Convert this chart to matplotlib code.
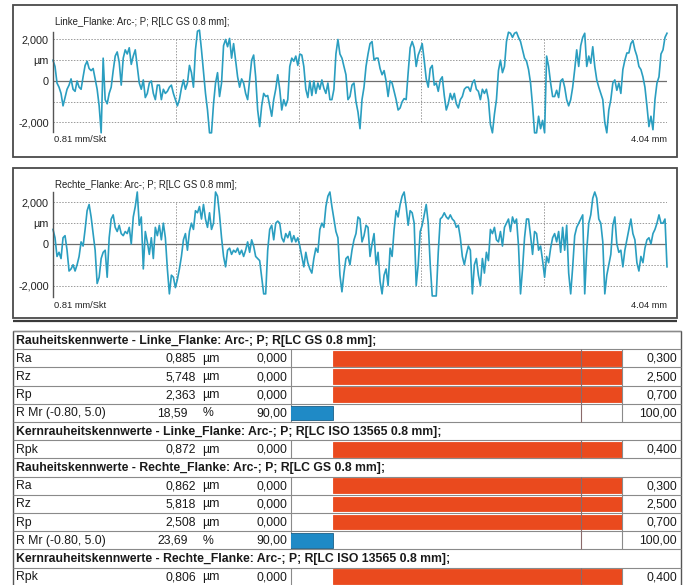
import matplotlib

matplotlib.use("Agg")
import matplotlib.pyplot as plt
import numpy as np
from matplotlib.patches import Rectangle

plt.rcParams["font.family"] = ["Liberation Sans", "DejaVu Sans"]

# profile data (µm), evenly spaced over the evaluation length
EVAL_LENGTH_MM = 4.04
DIV_MM = 0.808

left_profile = [
    1.0, 0.7, -0.1, -0.3, -0.6, -1.2, -0.8, -0.4, -0.2, 0.1, -0.4, -0.5, 0.0, -0.3, -0.4, 0.2,
    0.75, 0.95, 0.6, 0.5, 0.6, 0.1, -0.4, -1.2, -2.5, 1.1, -0.9, -1.1, -0.6, -0.3, 0.5, 1.2,
    1.4, 0.9, -0.2, 1.1, 1.5, 1.3, 1.6, 0.8, 1.2, 1.5, 0.7, -0.1, -0.4, 0.05, -0.8, -0.6,
    -0.1, 0.0, -0.6, -0.9, -0.2, -0.2, -0.9, -0.4, -0.6, -0.5, -0.3, -0.2, -0.6, -0.9, -1.2, -0.9,
    -0.35, 0.05, -0.4, -0.1, 0.75, 0.4, -0.3, 1.5, 2.4, 2.45, 1.5, 0.45, -0.6, -1.4, -2.5, -2.5,
    -1.1, -0.1, 0.4, -0.75, -0.1, 1.7, 2.0, 1.65, 2.05, 1.1, 1.8, 1.0, 0.2, -0.3, 0.1, -0.1,
    -0.6, -0.9, 0.05, 1.0, 1.25, 0.2, -1.4, -2.2, -1.2, -0.6, -0.75, -0.7, -1.2, -1.7, -0.9, -0.4,
    0.3, -0.4, -1.4, -0.9, -1.2, -0.9, 0.7, 1.1, 0.95, 1.2, 0.75, 1.3, 1.25, 0.7, -0.4, -0.8,
    0.0, -0.7, 0.0, -0.6, -0.1, -0.4, 0.05, -0.35, -0.6, -0.1, -0.9, -0.9, -0.4, 1.3, 2.0, 1.3,
    1.1, 0.7, 0.3, -0.9, -0.75, -0.2, -0.1, -1.0, -1.5, -2.3, -0.9, -0.3, 0.7, 1.3, 1.8, 1.9,
    1.0, 1.1, 1.1, 0.6, 0.3, 0.5, 0.0, -0.75, 0.0, -0.1, -0.5, -0.9, -1.4, -1.3, -1.0, -0.85,
    -0.9, 0.4, 1.6, 1.9, 1.6, 0.7, 1.25, 1.5, 1.8, 1.0, 0.1, -0.3, 0.6, 0.75, -0.2, -0.1,
    -0.5, 0.05, 0.2, -0.7, -1.4, -1.1, -0.6, -0.9, -0.6, -1.1, -1.3, -0.9, -0.75, -0.4, -0.3, -0.3,
    -0.5, -0.1, 0.05, -0.4, -0.5, -0.9, -0.4, -0.6, -0.4, -0.9, -2.1, -2.5, -1.6, -0.9, 0.5, 1.0,
    0.4, 0.7, 1.9, 2.35, 2.3, 2.1, 2.3, 2.35, 2.1, 1.9, 1.5, 1.1, 0.95, 0.55, -0.1, -1.2,
    -2.5, -2.5, -1.7, -2.3, -1.9, -2.5, 1.2, 0.7, -0.1, -0.75, -0.75, -0.45, -0.8, 0.0, 0.1, -0.3,
    -0.9, -1.2, -0.9, -0.3, 0.55, 1.5, 0.7, 1.7, 2.1, 2.3, 0.7, 1.2, 0.85, 1.65, 0.7, 0.05,
    -0.3, -0.6, -0.9, -2.0, -2.5, -1.4, -0.9, -0.1, 0.05, -0.45, -0.1, -0.6, 0.55, 1.0, 1.35, 1.35,
    1.8, 1.95, 1.5, 1.2, 0.7, 0.55, 0.2, -0.3, -1.2, -2.2, -1.7, -2.35, -0.9, -0.1, 0.2, 1.3,
    1.5, 2.1, 2.3,
]

right_profile = [
    0.7, 0.3, -0.6, -0.4, -0.7, 0.3, 0.4, -0.3, -1.3, -1.2, -1.0, -1.3, -1.0, -0.6, 0.1, -0.1,
    0.7, 1.6, 1.9, 1.3, 0.5, -0.3, -1.9, -1.6, -0.7, -0.4, -0.3, -1.6, 0.3, 1.2, 1.4, 0.8,
    0.6, 0.9, 0.5, 0.4, 0.6, 0.5, 0.8, 0.0, 1.3, 1.8, 2.5, 0.9, 1.3, -1.2, 0.6, 0.1,
    -0.5, 0.3, -0.7, 0.8, 0.4, 0.9, 0.2, 1.0, 0.3, -1.2, -2.4, -1.5, -1.6, -2.1, -1.7, -1.2,
    -0.6, 0.2, 0.5, -0.3, 0.6, 1.0, 0.7, 1.6, 1.5, 1.8, 1.2, 1.9, 1.2, 0.8, 1.5, 0.7,
    1.0, 2.5, 2.3, 1.4, 0.3, -0.6, -1.1, -0.3, -0.2, -0.5, -0.3, -0.4, -0.2, -0.5, -0.3, -0.6,
    -0.3, 0.1, -0.4, 0.2, -0.1, -0.6, -0.7, -0.8, -1.6, -2.4, -2.4, -0.3, 0.7, 0.9, 0.2, 1.0,
    1.1, 1.0, 0.3, 0.1, 0.5, 0.3, 0.6, 0.1, 0.4, 0.1, 0.3, -0.1, -0.6, -1.1, -0.4, -0.9,
    -1.2, -1.4, -0.7, -0.2, -0.4, 0.7, 1.0, 0.8, 1.8, 2.3, 2.5, 1.8, 1.2, 0.6, 0.3, -1.5,
    -2.3, -1.4, -0.7, -0.6, -1.0, -0.3, 0.2, 0.5, 1.3, 1.2, 0.1, 0.4, 0.9, 0.8, -0.6, 0.0,
    0.5, -1.0, -0.4, -1.8, -2.4, -1.5, -1.2, -2.0, -0.2, -0.6, 0.7, 1.6, 1.3, 1.9, 2.3, 2.5,
    1.8, 0.9, 1.6, 1.5, 1.0, -2.0, -1.0, 0.6, 0.9, 1.4, 1.9, 1.0, -1.0, -2.5, -2.5, -2.5,
    -0.4, 1.2, 1.3, 1.5, 1.3, 1.2, 1.4, 1.2, 1.1, 0.8, 0.9, 0.3, -0.6, -1.0, -0.5, -0.1,
    -0.3, -2.4, -1.0, -0.7, -1.5, -2.0, -0.7, -1.4, -0.4, -0.8, 0.7, 0.5, 0.8, 0.2, 0.1, 0.6,
    -0.1, 0.8, 1.0, 1.2, 0.6, 1.3, 1.0, 1.2, -0.1, -2.4, -1.2, 0.3, 1.2, 1.2, 0.4, -0.5,
    0.6, 0.5, -0.3, -0.1, -0.8, -1.6, -0.6, -0.9, -0.2, 0.3, 0.5, 0.1, 0.6, -0.4, 0.8, -0.3,
    0.9, -1.4, -2.4, -1.1, 0.4, 0.8, 1.0, 1.2, 1.4, -2.4, -0.3, 1.0, 1.4, 2.2, 2.5, 2.2,
    1.2, 1.0, 0.1, -2.4, -1.5, -1.0, -0.5, 0.9, 1.3, 0.0, -0.4, -0.3, -1.1, -0.3, 0.2, 0.7,
    1.2, 0.5, 0.2, -0.9, -1.3, -0.6, -0.9, -0.2, 0.2, 0.3, 0.0, 0.5, 0.7, 1.0, 1.4, 1.0,
    1.0, 1.2, -1.1,
]

profile_titles = [
    "Linke_Flanke: Arc-; P; R[LC GS 0.8 mm];",
    "Rechte_Flanke: Arc-; P; R[LC GS 0.8 mm];",
]

# roughness table
section_titles = [
    "Rauheitskennwerte - Linke_Flanke: Arc-; P; R[LC GS 0.8 mm];",
    "Kernrauheitskennwerte - Linke_Flanke: Arc-; P; R[LC ISO 13565 0.8 mm];",
    "Rauheitskennwerte - Rechte_Flanke: Arc-; P; R[LC GS 0.8 mm];",
    "Kernrauheitskennwerte - Rechte_Flanke: Arc-; P; R[LC ISO 13565 0.8 mm];",
]
param_section = [0, 0, 0, 0, 1, 2, 2, 2, 2, 3]
param_names = ["Ra", "Rz", "Rp", "R Mr (-0.80, 5.0)", "Rpk", "Ra", "Rz", "Rp", "R Mr (-0.80, 5.0)", "Rpk"]
param_values = [0.885, 5.748, 2.363, 18.59, 0.872, 0.862, 5.818, 2.508, 23.69, 0.806]
param_units = ["µm", "µm", "µm", "%", "µm", "µm", "µm", "µm", "%", "µm"]
param_lower = [0.0, 0.0, 0.0, 90.0, 0.0, 0.0, 0.0, 0.0, 90.0, 0.0]
param_upper = [0.300, 2.500, 0.700, 100.0, 0.400, 0.300, 2.500, 0.700, 100.0, 0.400]

W, H = 688, 585
RED = "#ea4a1e"
BLUE = "#1f8ac6"
TRACE = "#2a9ec0"
GRID = "#9a9a9a"
TXT = "#1a1a1a"
FS = 8.8


def rect(x0, y0, x1, y1):
    return [x0 / W, 1 - y1 / H, (x1 - x0) / W, (y1 - y0) / H]


def de(value, decimals):
    return f"{value:.{decimals}f}".replace(".", ",")


def draw_profile(fig, bg, frame, axes_box, values, title, ylim, title_y, foot_y):
    fx0, fy0, fx1, fy1 = frame
    bg.add_patch(Rectangle((fx0, fy0), fx1 - fx0, fy1 - fy0, fill=False, ec="#4a4a4a", lw=1.3))
    ax = fig.add_axes(rect(*axes_box))
    ax.set_facecolor("none")
    x = np.linspace(0, EVAL_LENGTH_MM, len(values))
    ax.set_xlim(0, EVAL_LENGTH_MM)
    ax.set_ylim(*ylim)
    ax.hlines([2, 1, -1, -2], 0, EVAL_LENGTH_MM, colors=GRID, lw=0.7, linestyles=(0, (1.5, 1.5)))
    ax.vlines(np.arange(1, 6) * DIV_MM, -2, 2, colors=GRID, lw=0.7, linestyles=(0, (1.5, 1.5)))
    ax.axhline(0, color="#6e6e6e", lw=0.9)
    ax.plot(x, values, color=TRACE, lw=1.2, clip_on=False)
    for side in ("top", "right", "bottom"):
        ax.spines[side].set_visible(False)
    ax.spines["left"].set_color("#555555")
    ax.spines["left"].set_linewidth(1.0)
    ax.set_xticks([])
    ax.set_yticks([2, 1, 0, -2])
    ax.set_yticklabels(["2,000", "µm", "0", "-2,000"])
    ax.tick_params(axis="y", length=0, pad=3, labelsize=7.8, labelcolor="#222222")
    ax0, ay0, ax1, ay1 = axes_box
    bg.text(ax0 + 2, title_y, title, fontsize=6.9, va="center", ha="left", color="#222222")
    bg.text(ax0 + 1, foot_y, "0.81 mm/Skt", fontsize=6.7, va="center", ha="left", color="#222222")
    bg.text(ax1, foot_y, "4.04 mm", fontsize=6.7, va="center", ha="right", color="#222222")


def main():
    fig = plt.figure(figsize=(W / 100, H / 100), dpi=100)
    bg = fig.add_axes([0, 0, 1, 1])
    bg.set_xlim(0, W)
    bg.set_ylim(H, 0)
    bg.axis("off")

    draw_profile(fig, bg, (13, 5, 677, 157), (53, 32, 667, 132), left_profile, profile_titles[0],
                 (-2.46, 2.36), 22, 139)
    draw_profile(fig, bg, (13, 168, 677, 318), (53, 192, 667, 297), right_profile, profile_titles[1],
                 (-2.55, 2.5), 185, 306)

    # table layout
    rows = []
    last_section = -1
    for i, sec in enumerate(param_section):
        if sec != last_section:
            rows.append(("header", sec))
            last_section = sec
        rows.append(("param", i))

    top, row_h = 331, 18.2
    left, right = 13, 681
    col_bar0, col_bar1 = 291, 622
    bottom = top + row_h * len(rows)

    bar_ax = fig.add_axes(rect(col_bar0, top, col_bar1, bottom))
    bar_ax.set_facecolor("none")
    bar_ax.set_ylim(len(rows), 0)
    # lower limit at pixel 333, upper limit at pixel 581
    scale = 581 - 333
    bar_ax.set_xlim(-(333 - col_bar0) / scale, (col_bar1 - 333) / scale)
    bar_ax.axis("off")

    for r, (kind, idx) in enumerate(rows):
        y0 = top + r * row_h
        yc = y0 + row_h / 2 + 0.5
        if kind == "header":
            bg.text(left + 3, yc, section_titles[idx], fontsize=FS, fontweight="bold",
                    va="center", ha="left", color=TXT)
            continue
        unit = param_units[idx]
        dec = 2 if unit == "%" else 3
        bg.text(left + 3, yc, param_names[idx], fontsize=FS, va="center", ha="left", color=TXT)
        if unit == "%":
            bg.text(188, yc, de(param_values[idx], dec), fontsize=FS, va="center", ha="right", color=TXT)
            bg.text(203, yc, unit, fontsize=FS, va="center", ha="left", color=TXT)
        else:
            bg.text(196, yc, de(param_values[idx], dec), fontsize=FS, va="center", ha="right", color=TXT)
            bg.text(202, yc, unit, fontsize=FS, va="center", ha="left", color=TXT)
        bg.text(287, yc, de(param_lower[idx], dec), fontsize=FS, va="center", ha="right", color=TXT)
        bg.text(677, yc, de(param_upper[idx], dec), fontsize=FS, va="center", ha="right", color=TXT)
        bg.vlines([col_bar0, col_bar1], y0, y0 + row_h, colors="#8a8a8a", lw=0.8)

        norm = (param_values[idx] - param_lower[idx]) / (param_upper[idx] - param_lower[idx])
        color = RED if norm > 1 else BLUE
        bar_ax.barh(r + 0.5, norm, left=0, height=0.8, color=color,
                    edgecolor="#1b5f86" if color == BLUE else color, lw=0.6)
        bar_ax.vlines(1, r, r + 1, colors="#8a6a6a", lw=0.8, zorder=5)

    for r in range(len(rows) + 1):
        bg.hlines(top + r * row_h, left, right, colors="#8a8a8a", lw=0.8)
    bg.add_patch(Rectangle((left, top), right - left, bottom - top, fill=False, ec="#555555", lw=1.0))
    # separator line under the profile panels
    bg.hlines(321, 13, 677, colors="#3a3a3a", lw=1.6)

    fig.savefig("out.png", dpi=100, facecolor="white")
    plt.close(fig)


if __name__ == "__main__":
    main()
